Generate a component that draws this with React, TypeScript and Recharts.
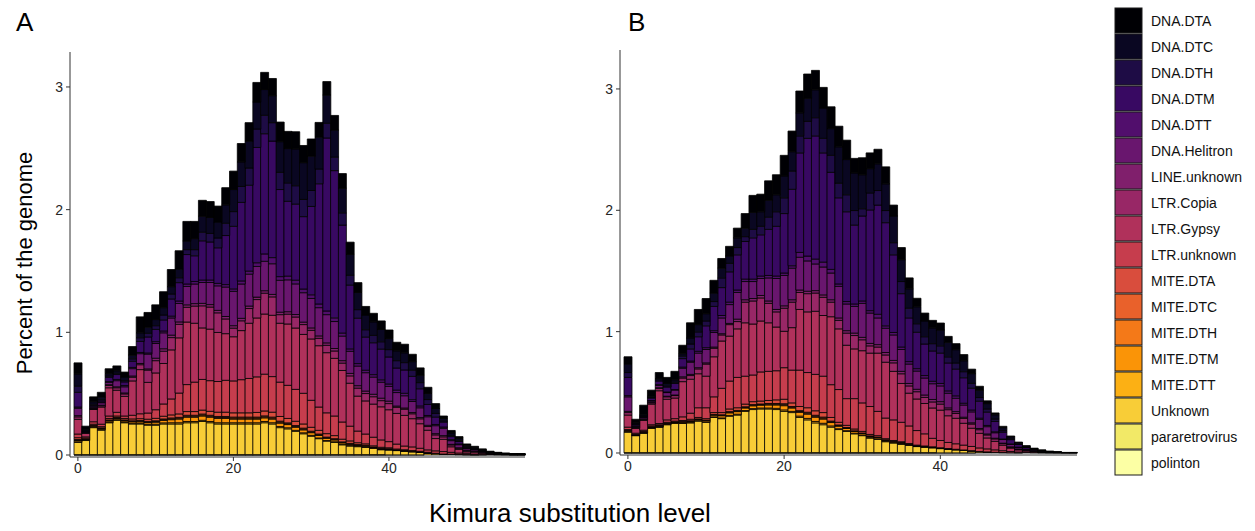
import { BarChart, Bar, XAxis, YAxis } from 'recharts';

const FONT = '"Liberation Sans", Arial, Helvetica, sans-serif';

// Kimura distance bins (1% wide)
const bins = [
  0, 1, 2, 3, 4, 5, 6, 7, 8, 9, 10, 11, 12, 13, 14, 15, 16, 17, 18, 19,
  20, 21, 22, 23, 24, 25, 26, 27, 28, 29, 30, 31, 32, 33, 34, 35, 36, 37, 38, 39,
  40, 41, 42, 43, 44, 45, 46, 47, 48, 49, 50, 51, 52, 53, 54, 55, 56, 57,
];

// TE classes, top of the stack first (legend order)
const classes = [
  'DNA.DTA', 'DNA.DTC', 'DNA.DTH', 'DNA.DTM', 'DNA.DTT', 'DNA.Helitron',
  'LINE.unknown', 'LTR.Copia', 'LTR.Gypsy', 'LTR.unknown', 'MITE.DTA', 'MITE.DTC',
  'MITE.DTH', 'MITE.DTM', 'MITE.DTT', 'Unknown', 'pararetrovirus', 'polinton',
];

// inferno, 18 steps
const inferno = [
  '#000004', '#0A0722', '#1E0C45', '#380962', '#510E6C', '#69166E',
  '#801F6C', '#982766', '#B0315B', '#C63D4D', '#D94D3D', '#E9612B',
  '#F47918', '#FA9407', '#FCB014', '#F8CD37', '#F2E967', '#FCFFA4',
];

const yTicks = [0, 1, 2, 3];

// ---- genome A (% of genome per bin) ----
const dtaA = [.09,.03,.04,.04,.04,.04,.04,.07,.13,.12,.12,.13,.14,.15,.16,.14,.13,.13,.13,.14,.15,.15,.15,.16,.14,.14,.16,.14,.14,.14,.14,.12,.11,.12,.12,.10,.08,.07,.07,.07,.07,.07,.07,.06,.06,.05,.04,.02,.02,.015,.01,.008,.006,.005,.004,.003,.003,.003];
const dtcA = [.10,.01,.02,.02,.02,.02,.03,.03,.04,.05,.05,.06,.06,.07,.07,.09,.13,.13,.13,.15,.18,.20,.22,.22,.21,.22,.25,.28,.30,.30,.28,.26,.23,.22,.20,.17,.14,.12,.11,.10,.09,.08,.08,.07,.06,.05,.04,.02,.02,.015,.012,.01,.008,.004,.003,.002,.002,.002];
const dthA = [.05,.005,.01,.01,.01,.01,.01,.02,.03,.03,.03,.04,.04,.04,.04,.05,.07,.07,.08,.10,.12,.13,.14,.15,.15,.15,.14,.15,.15,.14,.13,.12,.12,.11,.10,.08,.07,.06,.06,.06,.06,.06,.06,.05,.05,.04,.03,.01,.01,.01,.008,.006,.004,.003,.002,.002,.001,.001];
const dtmA = [.12,.005,.01,.01,.035,.04,.03,.05,.09,.13,.10,.09,.14,.15,.24,.21,.32,.31,.29,.40,.51,.64,.70,.94,.98,.95,.71,.61,.62,.59,.72,.98,1.41,1.20,.88,.52,.37,.27,.26,.25,.22,.18,.19,.19,.14,.09,.06,.04,.025,.02,.005,.002,.002,.001,0,0,0,0];
const dttA = [.01,0,.005,.005,.005,.01,.01,.01,.01,.01,.015,.015,.015,.02,.02,.02,.02,.02,.02,.02,.02,.025,.025,.03,.06,.05,.03,.03,.03,.03,.03,.03,.03,.03,.025,.02,.02,.02,.02,.02,.02,.02,.02,.015,.015,.01,.01,.01,.008,.006,.004,.003,.002,.002,.001,.001,.001,.001];
const helitronA = [.06,.005,.01,.02,.02,.05,.05,.06,.08,.12,.12,.13,.14,.15,.15,.16,.17,.18,.20,.24,.28,.28,.26,.25,.24,.25,.26,.26,.25,.24,.24,.23,.23,.22,.20,.18,.16,.15,.14,.13,.12,.11,.10,.09,.08,.07,.065,.06,.03,.025,.015,.012,.008,.005,.003,.002,.001,.001];
const lineA = [.01,.002,.003,.005,.005,.008,.008,.01,.01,.01,.02,.02,.02,.02,.02,.02,.02,.02,.02,.02,.02,.02,.02,.02,.02,.02,.02,.02,.02,.02,.02,.02,.02,.02,.02,.02,.02,.02,.02,.02,.02,.01,.01,.01,.01,.01,.01,.01,.005,.003,.002,.001,.001,.001,.001,.001,.001,.001];
const copiaA = [.02,0,.005,.01,.02,.02,.02,.03,.04,.10,.10,.10,.10,.11,.12,.14,.18,.18,.16,.12,.07,.08,.12,.15,.17,.15,.07,.08,.09,.08,.07,.06,.06,.06,.06,.06,.065,.06,.06,.05,.05,.05,.05,.04,.04,.03,.03,.02,.015,.01,.008,.006,.004,.003,.002,.001,.001,.001];
const gypsyA = [.12,.03,.10,.14,.23,.18,.16,.28,.36,.25,.30,.33,.40,.45,.51,.48,.42,.42,.40,.38,.36,.40,.45,.48,.49,.50,.48,.50,.50,.48,.50,.50,.49,.47,.42,.35,.285,.27,.27,.27,.26,.25,.25,.23,.20,.16,.10,.10,.045,.03,.015,.015,.01,.004,.004,.003,.001,.001];
const ltrUnknownA = [.03,.01,.02,.02,.02,.03,.02,.03,.04,.05,.07,.10,.13,.17,.22,.24,.25,.25,.25,.26,.26,.27,.28,.29,.30,.29,.28,.27,.26,.25,.22,.19,.17,.16,.14,.12,.095,.08,.07,.06,.05,.04,.03,.03,.025,.02,.02,.02,.015,.012,.008,.006,.004,.003,.002,.001,.001,.001];
const miteDtaA = [.015,.008,.01,.01,.012,.012,.012,.015,.015,.018,.02,.022,.025,.028,.03,.03,.032,.032,.035,.035,.035,.035,.035,.038,.04,.04,.038,.036,.035,.034,.032,.03,.028,.025,.022,.02,.015,.012,.01,.009,.008,.007,.006,.005,.004,.003,.003,.002,.002,.001,.001,.001,0,0,0,0,0,0];
const miteDtcA = [.004,.002,.003,.003,.004,.004,.004,.004,.005,.005,.006,.006,.007,.007,.008,.008,.008,.008,.008,.008,.008,.008,.008,.008,.008,.008,.008,.007,.007,.007,.006,.006,.005,.005,.004,.004,.003,.003,.002,.002,.002,.001,.001,.001,.001,.001,0,0,0,0,0,0,0,0,0,0,0,0];
const miteDthA = [.004,.002,.003,.003,.004,.004,.004,.004,.005,.005,.006,.006,.007,.007,.008,.008,.008,.008,.008,.008,.008,.008,.008,.008,.008,.008,.008,.007,.007,.007,.006,.006,.005,.005,.004,.004,.003,.003,.002,.002,.002,.001,.001,.001,.001,.001,0,0,0,0,0,0,0,0,0,0,0,0];
const miteDtmA = [.01,.005,.008,.008,.01,.01,.01,.012,.012,.014,.016,.02,.025,.03,.035,.035,.035,.035,.035,.035,.03,.03,.03,.03,.03,.03,.028,.026,.025,.024,.022,.02,.018,.015,.012,.01,.008,.007,.006,.005,.004,.003,.003,.002,.002,.001,.001,.001,0,0,0,0,0,0,0,0,0,0];
const miteDttA = [.005,.003,.004,.004,.005,.005,.005,.006,.006,.007,.008,.009,.01,.01,.01,.01,.01,.01,.01,.01,.01,.01,.01,.01,.01,.01,.009,.009,.008,.008,.007,.006,.005,.005,.004,.004,.003,.003,.002,.002,.002,.001,.001,.001,.001,.001,0,0,0,0,0,0,0,0,0,0,0,0];
const unknownA = [.10,.115,.22,.20,.26,.28,.26,.25,.25,.24,.24,.25,.25,.25,.26,.26,.27,.26,.25,.25,.25,.25,.25,.25,.26,.25,.22,.21,.19,.17,.15,.13,.11,.10,.08,.07,.065,.06,.05,.04,.04,.035,.03,.025,.02,.015,.01,.005,.005,.003,.002,.001,.001,0,0,0,0,0];
const pararetroA = [.002,.002,.002,.002,.002,.002,.002,.002,.002,.002,.002,.002,.002,.002,.002,.002,.002,.002,.002,.002,.002,.002,.002,.002,.002,.002,.002,.002,.002,.002,.002,.002,.002,.002,.002,.002,.002,.002,.002,.002,.001,.001,.001,.001,.001,0,0,0,0,0,0,0,0,0,0,0,0,0];
const polintonA = [.001,.001,.001,.001,.001,.001,.001,.001,.001,.001,.001,.001,.001,.001,.001,.001,.001,.001,.001,.001,.001,.001,.001,.001,.001,.001,.001,.001,.001,.001,.001,.001,.001,.001,.001,.001,.001,.001,.001,.001,0,0,0,0,0,0,0,0,0,0,0,0,0,0,0,0,0,0];

// ---- genome B ----
const dtaB = [.06,.03,.08,.05,.05,.05,.07,.07,.125,.125,.125,.105,.08,.08,.08,.12,.14,.145,.16,.165,.17,.17,.18,.20,.16,.17,.18,.17,.16,.12,.14,.13,.12,.14,.09,.10,.09,.07,.065,.062,.058,.049,.05,.051,.037,.033,.023,.015,.011,.007,.005,.004,.003,.002,.002,.002,.001,.001];
const dtcB = [.07,.01,.01,.01,.01,.02,.02,.02,.05,.06,.06,.07,.08,.06,.08,.07,.14,.12,.14,.14,.18,.16,.19,.19,.23,.25,.22,.30,.29,.31,.28,.20,.22,.22,.22,.18,.16,.14,.13,.13,.13,.12,.11,.09,.08,.06,.045,.035,.025,.015,.01,.007,.005,.003,.002,.001,.001,.001];
const dthB = [.04,.005,.005,.005,.01,.01,.01,.02,.04,.04,.04,.04,.08,.07,.06,.04,.07,.07,.10,.12,.13,.15,.14,.14,.15,.12,.14,.12,.14,.12,.06,.14,.12,.10,.10,.10,.08,.07,.06,.06,.06,.05,.05,.05,.04,.03,.025,.02,.013,.008,.005,.004,.003,.002,.001,.001,0,0];
const dtmB = [.15,.01,.005,.02,.03,.04,.05,.07,.10,.12,.18,.20,.23,.25,.29,.31,.34,.34,.38,.41,.49,.63,.82,.97,1.015,.90,.80,.71,.74,.65,.70,.83,.90,.85,.64,.44,.36,.30,.26,.25,.25,.23,.22,.21,.18,.14,.11,.085,.055,.035,.022,.014,.009,.005,.003,.002,.001,.001];
const dttB = [.01,.003,.003,.005,.005,.005,.005,.01,.01,.015,.015,.015,.02,.02,.02,.02,.02,.02,.02,.02,.02,.02,.04,.04,.04,.04,.03,.02,.02,.02,.02,.02,.03,.02,.02,.02,.02,.02,.02,.02,.02,.02,.02,.015,.015,.01,.01,.008,.005,.004,.003,.002,.001,.001,0,0,0,0];
const helitronB = [.12,.01,.01,.01,.02,.03,.04,.07,.10,.12,.11,.12,.13,.155,.22,.15,.14,.14,.19,.255,.25,.26,.27,.25,.22,.23,.22,.26,.22,.22,.28,.25,.22,.20,.21,.18,.16,.15,.14,.13,.13,.12,.11,.10,.09,.075,.06,.045,.03,.02,.012,.008,.005,.003,.002,.001,.001,.001];
const lineB = [.01,.002,.003,.005,.005,.005,.005,.01,.01,.01,.01,.01,.01,.01,.02,.02,.02,.02,.02,.02,.02,.02,.02,.02,.02,.02,.02,.02,.02,.02,.02,.02,.02,.02,.02,.02,.02,.02,.02,.02,.02,.015,.015,.01,.01,.01,.008,.006,.004,.003,.002,.001,.001,.001,0,0,0,0];
const copiaB = [.02,.005,.01,.01,.02,.02,.02,.03,.03,.04,.10,.07,.05,.095,.06,.17,.19,.19,.16,.125,.19,.21,.14,.15,.15,.15,.12,.07,.10,.11,.09,.06,.05,.06,.07,.08,.06,.06,.05,.05,.05,.05,.04,.04,.035,.03,.025,.02,.013,.008,.005,.003,.002,.001,.001,0,0,0];
const gypsyB = [.10,.04,.08,.17,.27,.17,.17,.29,.28,.28,.26,.33,.39,.37,.40,.44,.42,.42,.40,.36,.30,.35,.50,.50,.52,.50,.56,.50,.44,.41,.43,.44,.48,.46,.40,.32,.27,.26,.25,.25,.25,.22,.21,.18,.15,.12,.09,.07,.045,.028,.018,.012,.008,.005,.003,.002,.001,.001];
const ltrUnknownB = [.02,.01,.01,.01,.01,.02,.02,.03,.05,.08,.09,.13,.20,.23,.25,.23,.22,.24,.24,.24,.26,.27,.30,.29,.30,.30,.27,.27,.22,.25,.235,.23,.20,.17,.17,.16,.145,.12,.10,.07,.06,.05,.045,.04,.035,.03,.025,.02,.015,.01,.007,.005,.003,.002,.001,.001,0,0];
const miteDtaB = [.007,.003,.006,.007,.007,.007,.007,.009,.012,.012,.012,.015,.018,.022,.022,.022,.024,.024,.025,.03,.037,.03,.034,.037,.037,.037,.03,.022,.018,.015,.013,.012,.012,.009,.007,.007,.006,.005,.003,.002,.002,.001,.002,.002,.002,.001,.001,.001,.001,0,0,0,0,0,0,0,0,0];
const miteDtcB = [.002,.001,.001,.002,.002,.002,.002,.002,.002,.002,.002,.003,.004,.005,.005,.005,.005,.005,.006,.006,.008,.006,.007,.008,.008,.008,.006,.005,.004,.003,.003,.002,.002,.002,.002,.002,.001,.001,.001,.001,.001,.001,0,0,0,0,0,0,0,0,0,0,0,0,0,0,0,0];
const miteDthB = [.002,.001,.001,.002,.002,.002,.002,.002,.002,.002,.002,.003,.004,.005,.005,.005,.005,.005,.006,.006,.008,.006,.007,.008,.008,.008,.006,.005,.004,.003,.003,.002,.002,.002,.002,.002,.001,.001,.001,.001,.001,.001,0,0,0,0,0,0,0,0,0,0,0,0,0,0,0,0];
const miteDtmB = [.007,.004,.005,.007,.007,.007,.007,.009,.01,.01,.01,.014,.018,.021,.021,.021,.023,.023,.025,.028,.035,.028,.031,.035,.035,.035,.028,.021,.018,.014,.012,.01,.01,.009,.007,.007,.005,.004,.004,.003,.002,.002,.002,.002,.001,.001,.001,0,0,0,0,0,0,0,0,0,0,0];
const miteDttB = [.002,.001,.002,.002,.002,.002,.002,.003,.004,.004,.004,.005,.006,.007,.007,.007,.008,.008,.008,.01,.012,.01,.011,.012,.012,.012,.01,.007,.006,.005,.004,.004,.004,.003,.002,.002,.002,.001,.001,.001,.001,.001,.001,0,0,0,0,0,0,0,0,0,0,0,0,0,0,0];
const unknownB = [.17,.14,.16,.20,.21,.23,.24,.24,.245,.26,.25,.29,.28,.30,.31,.34,.355,.36,.36,.355,.34,.33,.29,.27,.245,.23,.21,.19,.175,.155,.14,.12,.11,.09,.08,.07,.06,.05,.045,.04,.035,.03,.025,.02,.015,.01,.007,.005,.003,.002,.001,0,0,0,0,0,0,0];
const pararetroB = [.002,.002,.002,.002,.002,.002,.002,.002,.002,.002,.002,.002,.002,.002,.002,.002,.002,.002,.002,.002,.002,.002,.002,.002,.002,.002,.002,.002,.002,.002,.002,.002,.002,.002,.002,.002,.002,.002,.002,.002,.001,.001,.001,.001,.001,0,0,0,0,0,0,0,0,0,0,0,0,0];
const polintonB = [.001,.001,.001,.001,.001,.001,.001,.001,.001,.001,.001,.001,.001,.001,.001,.001,.001,.001,.001,.001,.001,.001,.001,.001,.001,.001,.001,.001,.001,.001,.001,.001,.001,.001,.001,.001,.001,.001,.001,.001,0,0,0,0,0,0,0,0,0,0,0,0,0,0,0,0,0,0];

// same order as `classes`
const layersA = [dtaA, dtcA, dthA, dtmA, dttA, helitronA, lineA, copiaA, gypsyA, ltrUnknownA, miteDtaA, miteDtcA, miteDthA, miteDtmA, miteDttA, unknownA, pararetroA, polintonA];
const layersB = [dtaB, dtcB, dthB, dtmB, dttB, helitronB, lineB, copiaB, gypsyB, ltrUnknownB, miteDtaB, miteDtcB, miteDthB, miteDtmB, miteDttB, unknownB, pararetroB, polintonB];

function buildRows(layers: number[][]) {
  return bins.map((bin, i) => {
    const row: Record<string, number> = { bin };
    classes.forEach((c, k) => {
      row[c] = layers[k][i] ?? 0;
    });
    return row;
  });
}

const rowsA = buildRows(layersA);
const rowsB = buildRows(layersB);

const tickStyle = { fontSize: 14, fill: '#262626', fontFamily: FONT };

type PanelProps = {
  data: Record<string, number>[];
  yDomain: [number, number];
  margin: { top: number; right: number; bottom: number; left: number };
  left: number;
};

function Panel({ data, yDomain, margin, left }: PanelProps) {
  // stack bottom-up: last class in the legend sits on the axis
  const stackOrder = classes.map((c, k) => ({ c, color: inferno[k] })).reverse();
  return (
    <div style={{ position: 'absolute', left, top: 0 }}>
      <BarChart width={540} height={500} data={data} margin={margin} barCategoryGap={0} barGap={0}>
        <XAxis
          dataKey="bin"
          type="category"
          interval={19}
          padding={{ left: 4, right: 0 }}
          height={30}
          tick={tickStyle}
          tickSize={4}
          tickMargin={2}
          stroke="#333"
        />
        <YAxis
          type="number"
          domain={yDomain}
          allowDataOverflow
          ticks={yTicks}
          width={40}
          tick={tickStyle}
          tickSize={4}
          tickMargin={3}
          stroke="#333"
        />
        {stackOrder.map(({ c, color }) => (
          <Bar
            key={c}
            dataKey={c}
            stackId="te"
            fill={color}
            stroke="#000"
            strokeWidth={0.8}
            isAnimationActive={false}
          />
        ))}
      </BarChart>
    </div>
  );
}

function Legend() {
  return (
    <g>
      {classes.map((c, k) => {
        const y = 8 + k * 26;
        return (
          <g key={c}>
            <rect x={1115} y={y} width={27} height={25} fill={inferno[k]} stroke="#1a1a1a" strokeWidth={1} />
            <text x={1151} y={y + 13} dominantBaseline="central" fontSize={14} fill="#111">
              {c}
            </text>
          </g>
        );
      })}
    </g>
  );
}

export default function App() {
  return (
    <div style={{ position: 'relative', width: 1255, height: 531, background: '#fff', fontFamily: FONT, overflow: 'hidden' }}>
      <style>{'body { margin: 0; }'}</style>
      <Panel data={rowsA} yDomain={[-0.0163, 3.285]} margin={{ top: 52, right: 15, left: 30, bottom: 13 }} left={0} />
      <Panel data={rowsB} yDomain={[-0.0165, 3.321]} margin={{ top: 50, right: 13, left: 30, bottom: 15 }} left={550} />
      <svg width={1255} height={531} style={{ position: 'absolute', left: 0, top: 0, pointerEvents: 'none' }} fontFamily={FONT}>
        <text x={16} y={31} fontSize={26} fill="#000">A</text>
        <text x={628} y={31} fontSize={26} fill="#000">B</text>
        <text
          x={24}
          y={263}
          transform="rotate(-90 24 263)"
          textAnchor="middle"
          dominantBaseline="central"
          fontSize={22}
          fill="#000"
        >
          Percent of the genome
        </text>
        <text x={570} y={513} textAnchor="middle" dominantBaseline="central" fontSize={26} fill="#000">
          Kimura substitution level
        </text>
        <Legend />
      </svg>
    </div>
  );
}
